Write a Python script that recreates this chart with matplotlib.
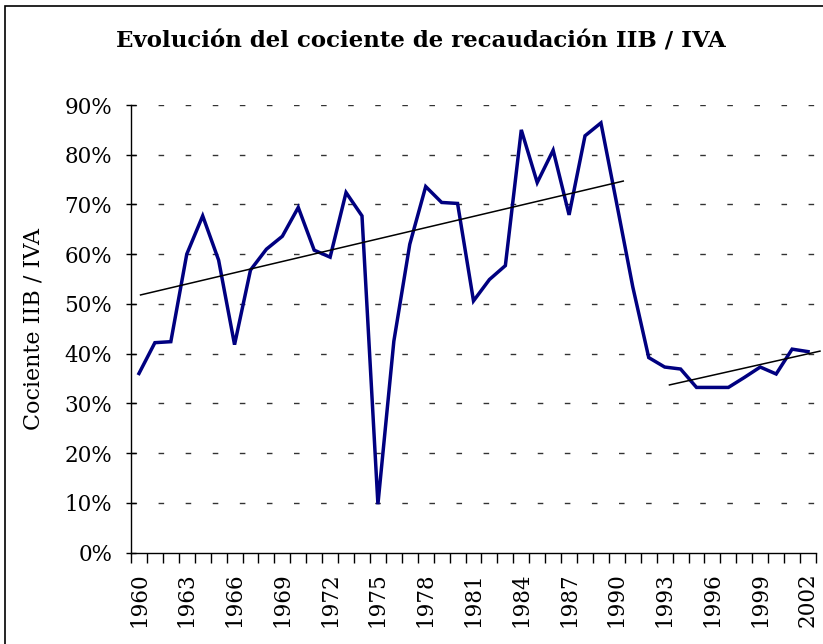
import matplotlib
matplotlib.use("Agg")
import matplotlib.pyplot as plt
from matplotlib.patches import Rectangle
from matplotlib.ticker import FuncFormatter, FixedLocator

plt.rcParams['font.family'] = ['DejaVu Serif']
plt.rcParams['lines.scale_dashes'] = False

years = list(range(1960, 2003))
ratio = [36.0, 42.2, 42.4, 60.0, 67.7, 58.8, 41.8, 56.8, 61.0, 63.6,
         69.4, 60.8, 59.4, 72.4, 67.7, 9.7, 42.5, 62.0, 73.6, 70.4,
         70.2, 50.6, 54.9, 57.7, 85.0, 74.4, 80.9, 67.9, 83.8, 86.4,
         70.0, 53.4, 39.2, 37.3, 36.9, 33.2, 33.2, 33.2, 35.2, 37.3,
         35.9, 40.9, 40.4]

trend1_x = [1960.1, 1990.4]
trend1_y = [51.8, 74.7]
trend2_x = [1993.3, 2002.75]
trend2_y = [33.7, 40.5]

tick_years = list(range(1960, 2003, 3))
title = "Evolución del cociente de recaudación IIB / IVA"
ylabel = "Cociente IIB / IVA"

W, H = 823, 644
fig = plt.figure(figsize=(W / 100, H / 100), dpi=100)
ax = fig.add_axes([131 / W, 1 - 552.5 / H, (816 - 131) / W, (552.5 - 105) / H])

ax.set_xlim(1959.5, 2002.5)
ax.set_ylim(0, 90)

for v in range(10, 91, 10):
    ax.axhline(v, color='#333333', lw=1.0, linestyle=(0, (4, 15.5)), zorder=1)

ax.plot(years, ratio, color='#000080', lw=2.5, solid_joinstyle='miter', zorder=3)
ax.plot(trend1_x, trend1_y, color='black', lw=1.1, zorder=4, clip_on=False)
ax.plot(trend2_x, trend2_y, color='black', lw=1.1, zorder=4, clip_on=False)

ax.spines['top'].set_visible(False)
ax.spines['right'].set_visible(False)
ax.spines['left'].set_linewidth(1.0)
ax.spines['bottom'].set_linewidth(1.0)

ax.set_yticks(range(0, 91, 10))
ax.yaxis.set_major_formatter(FuncFormatter(lambda v, p: f"{int(v)}%"))
ax.tick_params(axis='y', direction='inout', length=7, width=1, pad=10, labelsize=15.5)

ax.set_xticks(tick_years)
ax.set_xticklabels([str(y) for y in tick_years], rotation=90)
ax.xaxis.set_minor_locator(FixedLocator([y - 0.5 for y in range(1960, 2004)]))
ax.tick_params(axis='x', which='major', length=0, pad=14, labelsize=15.5)
ax.tick_params(axis='x', which='minor', direction='out', length=7, width=1)

ax.set_ylabel(ylabel, fontsize=16, va='center')
ax.yaxis.set_label_coords(-0.142, 0.5)

fig.text(421 / W, 1 - 42 / H, title, ha='center', va='center',
         fontsize=16.5, fontweight='bold')

fig.patches.append(Rectangle((5 / W, -0.05), 1.1, 1 - 6 / H + 0.05,
                             transform=fig.transFigure, fill=False,
                             edgecolor='black', lw=1.2))

fig.savefig("out.png", dpi=100)
